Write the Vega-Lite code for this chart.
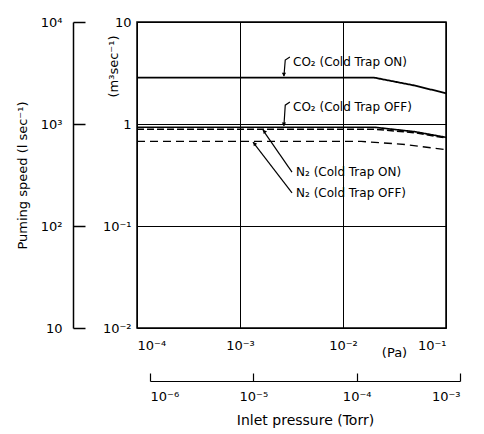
{
  "$schema": "https://vega.github.io/schema/vega-lite/v6.json",
  "width": 309,
  "height": 306,
  "autosize": {"type": "none"},
  "padding": {"left": 137, "top": 22, "right": 38, "bottom": 106},
  "background": "white",
  "config": {
    "view": {"stroke": "black", "strokeWidth": 1.5},
    "font": "DejaVu Sans",
    "axis": {"labelFont": "DejaVu Sans", "titleFont": "DejaVu Sans", "labelColor": "black", "titleColor": "black", "labelFontSize": 13, "titleFontSize": 13, "titleFontWeight": "normal", "domainColor": "black", "tickColor": "black"}
  },
  "datasets": {
    "curves": [
      {"series": "CO2 ON", "pa": 0.0001, "m3s": 2.85},
      {"series": "CO2 ON", "pa": 0.02, "m3s": 2.85},
      {"series": "CO2 ON", "pa": 0.05, "m3s": 2.38},
      {"series": "CO2 ON", "pa": 0.1, "m3s": 2.0},
      {"series": "CO2 OFF", "pa": 0.0001, "m3s": 0.93},
      {"series": "CO2 OFF", "pa": 0.02, "m3s": 0.93},
      {"series": "CO2 OFF", "pa": 0.05, "m3s": 0.84},
      {"series": "CO2 OFF", "pa": 0.1, "m3s": 0.74},
      {"series": "N2 ON", "pa": 0.0001, "m3s": 0.89},
      {"series": "N2 ON", "pa": 0.02, "m3s": 0.89},
      {"series": "N2 ON", "pa": 0.05, "m3s": 0.82},
      {"series": "N2 ON", "pa": 0.1, "m3s": 0.73},
      {"series": "N2 OFF", "pa": 0.0001, "m3s": 0.675},
      {"series": "N2 OFF", "pa": 0.015, "m3s": 0.675},
      {"series": "N2 OFF", "pa": 0.04, "m3s": 0.63},
      {"series": "N2 OFF", "pa": 0.1, "m3s": 0.56}
    ],
    "labels": [
      {"text": "CO₂ (Cold Trap ON)", "pa": 0.00327, "m3s": 4.06},
      {"text": "CO₂ (Cold Trap OFF)", "pa": 0.00327, "m3s": 1.47},
      {"text": "N₂ (Cold Trap ON)", "pa": 0.0035, "m3s": 0.338},
      {"text": "N₂ (Cold Trap OFF)", "pa": 0.0035, "m3s": 0.211}
    ],
    "leaders": [
      {"id": "a", "ord": 1, "pa": 0.00305, "m3s": 4.54},
      {"id": "a", "ord": 2, "pa": 0.00275, "m3s": 4.24},
      {"id": "a", "ord": 3, "pa": 0.00267, "m3s": 2.95},
      {"id": "b", "ord": 1, "pa": 0.00305, "m3s": 1.64},
      {"id": "b", "ord": 2, "pa": 0.00275, "m3s": 1.53},
      {"id": "b", "ord": 3, "pa": 0.00267, "m3s": 0.96},
      {"id": "c", "ord": 1, "pa": 0.0032, "m3s": 0.338},
      {"id": "c", "ord": 2, "pa": 0.00167, "m3s": 0.87},
      {"id": "d", "ord": 1, "pa": 0.0032, "m3s": 0.211},
      {"id": "d", "ord": 2, "pa": 0.001337, "m3s": 0.663}
    ],
    "arrows": [
      {"kind": "down", "pa": 0.00267, "m3s": 3.05},
      {"kind": "down", "pa": 0.00267, "m3s": 0.99},
      {"kind": "diag", "pa": 0.00172, "m3s": 0.85},
      {"kind": "diag", "pa": 0.00138, "m3s": 0.645}
    ],
    "lps": [{"ls": 10}, {"ls": 10000}],
    "torr": [{"torr": 0.000001}, {"torr": 0.001}]
  },
  "layer": [
    {
      "layer": [
        {
          "data": {"name": "curves"},
          "mark": {"type": "line", "color": "black", "clip": true},
          "encoding": {
            "x": {"field": "pa", "type": "quantitative",
              "scale": {"type": "log", "domain": [0.0001, 0.1], "nice": false},
              "axis": {"orient": "bottom", "values": [0.0001, 0.001, 0.01, 0.1], "grid": true, "gridColor": "black", "gridOpacity": 1, "gridWidth": 1, "domain": false, "ticks": false, "labelPadding": 11, "labelBaseline": "top",
                "labelExpr": "datum.value < 0.0005 ? '10⁻⁴' : datum.value < 0.005 ? '10⁻³' : datum.value < 0.05 ? '10⁻²' : '10⁻¹'",
                "title": "(Pa)", "titleX": 257, "titleY": 24, "titleAlign": "center", "titleBaseline": "middle"}},
            "y": {"field": "m3s", "type": "quantitative",
              "scale": {"type": "log", "domain": [0.01, 10], "nice": false},
              "axis": {"orient": "left", "values": [0.01, 0.1, 1, 10], "grid": true, "gridColor": "black", "gridOpacity": 1, "gridWidth": 1, "domain": false, "ticks": false, "labelPadding": 6,
                "labelExpr": "datum.value < 0.05 ? '10⁻²' : datum.value < 0.5 ? '10⁻¹' : datum.value < 5 ? '1' : '10'",
                "title": "(m³sec⁻¹)", "titleAngle": -90, "titleX": -24, "titleY": 44, "titleAlign": "center", "titleBaseline": "middle"}},
            "detail": {"field": "series"},
            "strokeDash": {"field": "series", "type": "nominal", "legend": null,
              "scale": {"domain": ["CO2 ON", "CO2 OFF", "N2 ON", "N2 OFF"], "range": [[1, 0], [1, 0], [7, 3], [8, 5]]}},
            "strokeWidth": {"field": "series", "type": "nominal", "legend": null,
              "scale": {"domain": ["CO2 ON", "CO2 OFF", "N2 ON", "N2 OFF"], "range": [1.8, 1.4, 2.6, 1.2]}}
          }
        },
        {
          "data": {"name": "leaders"},
          "mark": {"type": "line", "color": "black", "strokeWidth": 1.2},
          "encoding": {
            "x": {"field": "pa", "type": "quantitative"},
            "y": {"field": "m3s", "type": "quantitative"},
            "detail": {"field": "id"},
            "order": {"field": "ord"}
          }
        },
        {
          "data": {"name": "arrows"},
          "transform": [{"filter": "datum.kind == 'down'"}],
          "mark": {"type": "point", "shape": "triangle-down", "filled": true, "color": "black", "size": 18, "opacity": 1},
          "encoding": {
            "x": {"field": "pa", "type": "quantitative"},
            "y": {"field": "m3s", "type": "quantitative"}
          }
        },
        {
          "data": {"name": "arrows"},
          "transform": [{"filter": "datum.kind == 'diag'"}],
          "mark": {"type": "point", "shape": "triangle-up", "filled": true, "color": "black", "size": 18, "angle": 324, "opacity": 1},
          "encoding": {
            "x": {"field": "pa", "type": "quantitative"},
            "y": {"field": "m3s", "type": "quantitative"}
          }
        },
        {
          "data": {"name": "labels"},
          "mark": {"type": "text", "align": "left", "baseline": "middle", "fontSize": 12, "color": "black", "font": "DejaVu Sans"},
          "encoding": {
            "x": {"field": "pa", "type": "quantitative"},
            "y": {"field": "m3s", "type": "quantitative"},
            "text": {"field": "text"}
          }
        }
      ]
    },
    {
      "data": {"name": "lps"},
      "mark": {"type": "point", "opacity": 0},
      "encoding": {
        "y": {"field": "ls", "type": "quantitative",
          "scale": {"type": "log", "domain": [10, 10000], "nice": false},
          "axis": {"orient": "left", "offset": 64, "values": [10, 100, 1000, 10000], "grid": false, "domain": true, "domainWidth": 1.5, "ticks": true, "tickSize": -12, "tickWidth": 1.5, "labelPadding": 23,
            "labelExpr": "datum.value < 50 ? '10' : datum.value < 500 ? '10²' : datum.value < 5000 ? '10³' : '10⁴'",
            "title": "Puming speed (l sec⁻¹)", "titleAngle": -90, "titleX": -51, "titleY": 153, "titleAlign": "center", "titleBaseline": "middle"}}
      }
    },
    {
      "data": {"name": "torr"},
      "mark": {"type": "point", "opacity": 0},
      "encoding": {
        "x": {"field": "torr", "type": "quantitative",
          "scale": {"type": "log", "domain": [0.000001, 0.001], "range": [13, 323], "nice": false},
          "axis": {"orient": "bottom", "offset": 53, "values": [0.000001, 0.00001, 0.0001, 0.001], "grid": false, "domain": true, "domainWidth": 1.2, "ticks": true, "tickSize": -8, "tickWidth": 1.2, "labelPadding": 17, "labelBaseline": "top",
            "labelExpr": "datum.value < 0.000005 ? '10⁻⁶' : datum.value < 0.00005 ? '10⁻⁵' : datum.value < 0.0005 ? '10⁻⁴' : '10⁻³'",
            "title": "Inlet pressure (Torr)", "titleX": 168, "titleY": 39, "titleAlign": "center", "titleBaseline": "middle", "titleFontSize": 14}}
      }
    }
  ],
  "resolve": {"scale": {"x": "independent", "y": "independent"}, "axis": {"x": "independent", "y": "independent"}}
}
